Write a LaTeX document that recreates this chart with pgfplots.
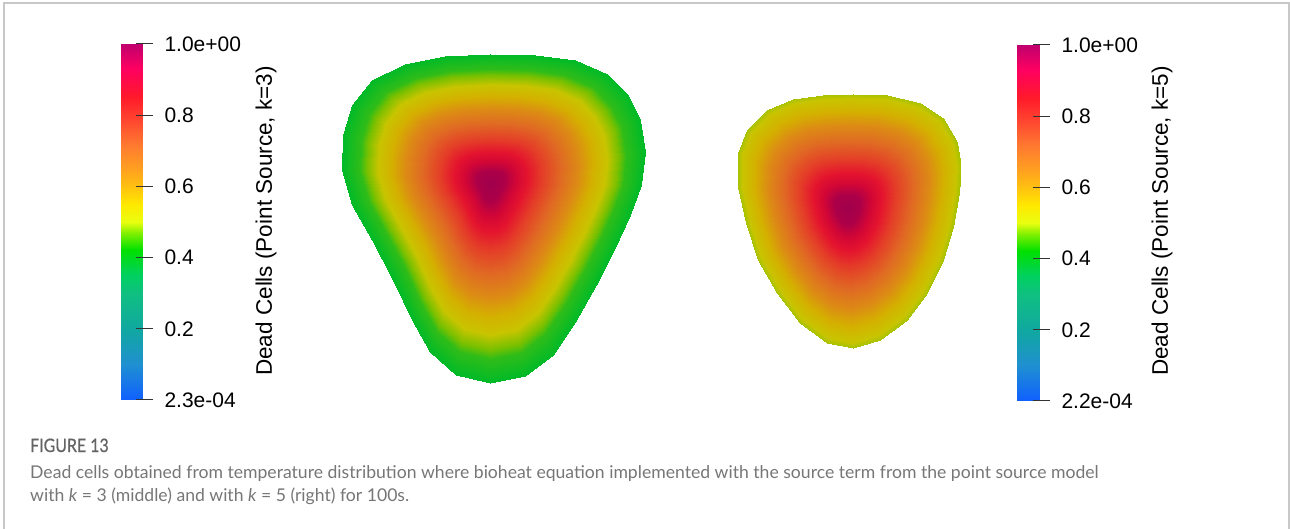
\documentclass[border=0pt]{standalone}
\usepackage{pgfplots}
\pgfplotsset{compat=1.18}
\usepackage{graphicx}
\usepackage{fontspec}
\setmainfont{Liberation Sans}
\newfontfamily\capfont{Lato}
\newfontfamily\capfontb{Lato}[FakeBold=0.7]
\definecolor{capgrey}{RGB}{118,118,118}
\definecolor{figgrey}{RGB}{100,100,100}
\definecolor{framegrey}{RGB}{200,200,200}
\pgfplotsset{
  colormap={deadbar}{rgb255(0pt)=(16,96,255) rgb255(10pt)=(32,144,208) rgb255(20pt)=(16,168,160)
    rgb255(30pt)=(16,192,128) rgb255(35pt)=(0,208,96) rgb255(42pt)=(0,224,0) rgb255(47pt)=(128,240,0)
    rgb255(50pt)=(232,255,16) rgb255(55pt)=(255,232,0) rgb255(60pt)=(255,192,16) rgb255(65pt)=(255,160,32)
    rgb255(72pt)=(255,120,48) rgb255(78pt)=(255,74,48) rgb255(85pt)=(255,26,42) rgb255(93pt)=(255,0,96)
    rgb255(100pt)=(192,0,110)},
  colormap={deadblob}{rgb255(0pt)=(0,184,40) rgb255(40pt)=(0,186,40) rgb255(45pt)=(120,192,0)
    rgb255(50pt)=(200,196,0) rgb255(56pt)=(212,176,0) rgb255(62pt)=(220,140,20) rgb255(70pt)=(224,104,36)
    rgb255(78pt)=(228,60,40) rgb255(84pt)=(228,20,46) rgb255(89pt)=(210,6,54) rgb255(94pt)=(172,0,72) rgb255(100pt)=(160,0,76)},
  cbar/.style={anchor=south west, scale only axis, height=356pt, axis on top,
    xmin=0, xmax=1, ymin=0, ymax=1, axis line style={draw=none}, xtick=\empty,
    ytick={0.00023,0.2,0.4,0.6,0.8,1}, ytick pos=right, yticklabel pos=right,
    major tick length=17pt, tick align=center, tick style={black!80, line width=1pt},
    yticklabel style={font=\fontsize{21}{21}\selectfont, anchor=west, xshift=8pt},
    colormap name=deadbar, point meta min=0, point meta max=1, clip=false},
}
\begin{document}
\begin{tikzpicture}
\begin{axis}[at={(0pt,0pt)}, anchor=south west, scale only axis, width=1290pt, height=529pt,
  xmin=0, xmax=1290, ymin=0, ymax=529, y dir=reverse, hide axis,
  colormap name=deadblob, point meta min=0, point meta max=1, clip=false]
% left blob (k=3): centre, inner ring, boundary
\addplot[surf, shader=interp, mesh/rows=3, mesh/cols=28, point meta=explicit]
 table[x=x, y=y, meta=c] {
x y c
490 183 1.0
490 183 1.0
490 183 1.0
490 183 1.0
490 183 1.0
490 183 1.0
490 183 1.0
490 183 1.0
490 183 1.0
490 183 1.0
490 183 1.0
490 183 1.0
490 183 1.0
490 183 1.0
490 183 1.0
490 183 1.0
490 183 1.0
490 183 1.0
490 183 1.0
490 183 1.0
490 183 1.0
490 183 1.0
490 183 1.0
490 183 1.0
490 183 1.0
490 183 1.0
490 183 1.0
490 183 1.0
490.0 69.5 0.42
529.6 70.4 0.42
564.8 74.8 0.42
593.0 87.1 0.42
611.4 105.6 0.42
622.0 127.6 0.42
626.4 155.7 0.42
622.9 184.8 0.42
613.2 211.2 0.42
599.1 242.0 0.42
583.3 272.8 0.42
564.8 305.3 0.42
545.4 334.4 0.42
520.8 352.8 0.42
490.0 359.0 0.42
460.1 352.0 0.42
437.2 331.7 0.42
421.4 303.6 0.42
404.6 268.4 0.42
386.2 233.2 0.42
368.6 202.4 0.42
359.8 171.6 0.42
360.6 140.8 0.42
368.6 114.4 0.42
386.2 92.4 0.42
415.2 78.3 0.42
450.4 71.2 0.42
490.0 69.5 0.42
490 54 0.40
535 55 0.40
575 60 0.40
607 74 0.40
628 95 0.40
640 120 0.40
645 152 0.40
641 185 0.40
630 215 0.40
614 250 0.40
596 285 0.40
575 322 0.40
553 355 0.40
525 376 0.40
490 383 0.40
456 375 0.40
430 352 0.40
412 320 0.40
393 280 0.40
372 240 0.40
352 205 0.40
342 170 0.40
343 135 0.40
352 105 0.40
372 80 0.40
405 64 0.40
445 56 0.40
490 54 0.40
};
% right blob (k=5): centre, boundary
\addplot[surf, shader=interp, mesh/rows=2, mesh/cols=25, point meta=explicit]
 table[x=x, y=y, meta=c] {
x y c
847 208 1.0
847 208 1.0
847 208 1.0
847 208 1.0
847 208 1.0
847 208 1.0
847 208 1.0
847 208 1.0
847 208 1.0
847 208 1.0
847 208 1.0
847 208 1.0
847 208 1.0
847 208 1.0
847 208 1.0
847 208 1.0
847 208 1.0
847 208 1.0
847 208 1.0
847 208 1.0
847 208 1.0
847 208 1.0
847 208 1.0
847 208 1.0
847 208 1.0
853.3 94.0 0.48
886.7 95.0 0.48
920.0 103.3 0.48
943.3 118.3 0.48
956.7 141.7 0.48
960.7 166.7 0.48
959.3 193.3 0.48
953.3 226.7 0.48
943.3 260.0 0.48
926.7 293.3 0.48
906.7 320.0 0.48
880.0 340.0 0.48
853.3 348.3 0.48
826.7 343.3 0.48
800.0 323.3 0.48
776.7 293.3 0.48
758.3 260.0 0.48
746.0 223.3 0.48
738.3 186.7 0.48
738.3 153.3 0.48
746.7 130.0 0.48
766.7 110.0 0.48
793.3 99.3 0.48
823.3 95.0 0.48
853.3 94.0 0.48
};
\node[rotate=90, font=\fontsize{22.5}{22.5}\selectfont, inner sep=0pt] at (axis cs:266,221) {Dead Cells (Point Source, k=3)};
\node[rotate=90, font=\fontsize{22.5}{22.5}\selectfont, inner sep=0pt] at (axis cs:1162,221) {Dead Cells (Point Source, k=5)};
\node[anchor=base west, inner sep=0pt, font=\capfontb\fontsize{18.5}{18.5}\selectfont, text=figgrey] at (axis cs:30,452) {\scalebox{0.86}[1]{FIGURE 13}};
\node[anchor=base west, inner sep=0pt, font=\capfont\fontsize{17.6}{17.6}\selectfont, text=capgrey] at (axis cs:30,478) {Dead cells obtained from temperature distribution where bioheat equation implemented with the source term from the point source model};
\node[anchor=base west, inner sep=0pt, font=\capfont\fontsize{17.6}{17.6}\selectfont, text=capgrey] at (axis cs:30,501) {with \textit{k} = 3 (middle) and with \textit{k} = 5 (right) for 100s.};
\draw[framegrey, line width=1.5pt] (axis cs:4,529) -- (axis cs:4,3) -- (axis cs:1289,3) -- (axis cs:1289,529);
\end{axis}
% left colour bar
\begin{axis}[cbar, at={(121pt,129pt)}, width=23.5pt,
  yticklabels={2.3e-04,0.2,0.4,0.6,0.8,1.0e+00}]
\addplot[surf, shader=interp, mesh/rows=16, mesh/cols=2, point meta=y] table {
x y
0 0
0.894 0
0 0.1
0.894 0.1
0 0.2
0.894 0.2
0 0.3
0.894 0.3
0 0.35
0.894 0.35
0 0.42
0.894 0.42
0 0.47
0.894 0.47
0 0.5
0.894 0.5
0 0.55
0.894 0.55
0 0.6
0.894 0.6
0 0.65
0.894 0.65
0 0.72
0.894 0.72
0 0.78
0.894 0.78
0 0.85
0.894 0.85
0 0.93
0.894 0.93
0 1
0.894 1
};
\end{axis}
% right colour bar
\begin{axis}[cbar, at={(1017pt,128pt)}, width=24.5pt,
  yticklabels={2.2e-04,0.2,0.4,0.6,0.8,1.0e+00}]
\addplot[surf, shader=interp, mesh/rows=16, mesh/cols=2, point meta=y] table {
x y
0 0
0.898 0
0 0.1
0.898 0.1
0 0.2
0.898 0.2
0 0.3
0.898 0.3
0 0.35
0.898 0.35
0 0.42
0.898 0.42
0 0.47
0.898 0.47
0 0.5
0.898 0.5
0 0.55
0.898 0.55
0 0.6
0.898 0.6
0 0.65
0.898 0.65
0 0.72
0.898 0.72
0 0.78
0.898 0.78
0 0.85
0.898 0.85
0 0.93
0.898 0.93
0 1
0.898 1
};
\end{axis}
\pgfresetboundingbox
\path (0pt,0pt) rectangle (1290pt,529pt);
\end{tikzpicture}
\end{document}
